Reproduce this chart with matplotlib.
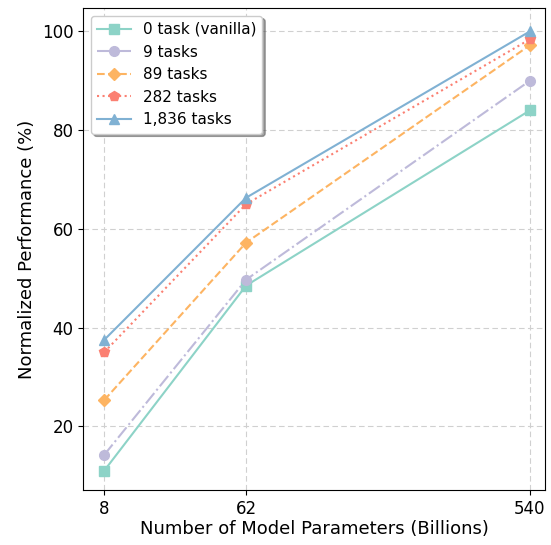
import matplotlib.pyplot as plt

# --- data ---
model_sizes = ['8', '62', '540']
series_names = ['0 task (vanilla)', '9 tasks', '89 tasks', '282 tasks', '1,836 tasks']
vanilla = [11.0, 48.5, 84.0]
tasks_9 = [14.2, 49.7, 90.0]
tasks_89 = [25.3, 57.2, 97.2]
tasks_282 = [35.0, 65.0, 98.4]
tasks_1836 = [37.5, 66.3, 100.0]

# x positions of the three model sizes (uneven spacing, as in the paper figure)
x_pos = [0, 1, 3]

plt.rcParams['font.family'] = ['DejaVu Sans']

fig = plt.figure(figsize=(5.51, 5.45), dpi=100)
ax = fig.add_axes([0.151, 0.101, 0.838, 0.884])

styles = [
    (vanilla, '#8dd3c7', '-', 's'),
    (tasks_9, '#bebada', '-.', 'o'),
    (tasks_89, '#fdb462', '--', 'D'),
    (tasks_282, '#fb8072', ':', 'p'),
    (tasks_1836, '#80b1d3', '-', '^'),
]

for (vals, col, ls, mk), name in zip(styles, series_names):
    ms = 6 if mk == 'D' else 7
    ax.plot(x_pos, vals, color=col, linestyle=ls, marker=mk, markersize=ms,
            linewidth=1.5, label=name)

ax.set_xticks(x_pos)
ax.set_xticklabels(model_sizes)
ax.set_xlim(-0.148, 3.106)
ax.set_ylim(7.1, 104.7)
ax.set_yticks([20, 40, 60, 80, 100])
ax.tick_params(labelsize=12)

ax.grid(True, linestyle=(0, (5, 3)), color='#d0d0d0', linewidth=0.8)
ax.set_axisbelow(True)

ax.set_xlabel('Number of Model Parameters (Billions)', fontsize=13, labelpad=2)
ax.set_ylabel('Normalized Performance (%)', fontsize=13)

ax.legend(loc='upper left', fontsize=11, shadow=True, fancybox=True,
          framealpha=1.0, edgecolor='#cccccc', handlelength=2.2)

fig.savefig('out.png', dpi=100)
